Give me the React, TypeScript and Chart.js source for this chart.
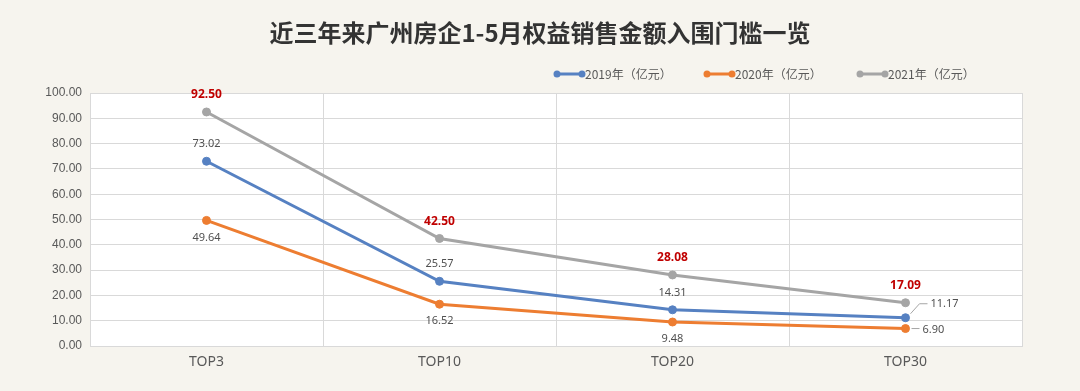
import React, { useEffect, useRef } from "react";
import { Chart, registerables } from "chart.js";

Chart.register(...registerables);

const TITLE = "近三年来广州房企1-5月权益销售金额入围门槛一览";
const CATEGORIES = ["TOP3", "TOP10", "TOP20", "TOP30"];
const SERIES_NAMES = ["2019年（亿元）", "2020年（亿元）", "2021年（亿元）"];
const VALUES_2019 = [73.02, 25.57, 14.31, 11.17];
const VALUES_2020 = [49.64, 16.52, 9.48, 6.9];
const VALUES_2021 = [92.5, 42.5, 28.08, 17.09];
const Y_MIN = 0;
const Y_MAX = 100;
const Y_STEP = 10;

const COLORS = ["#5681c2", "#ed7d31", "#a5a5a5"];
const BG = "#f6f4ee";

const LABEL_STYLE = [
  { pos: "above", color: "#505050", bold: false, size: 11, lastRight: true },
  { pos: "below", color: "#505050", bold: false, size: 11, lastRight: true },
  { pos: "above", color: "#c00000", bold: true, size: 12, lastRight: false },
];

const decorPlugin = {
  id: "decor",
  beforeDraw(chart: any) {
    const { ctx, chartArea, width, height } = chart;
    ctx.save();
    ctx.fillStyle = BG;
    ctx.fillRect(0, 0, width, height);
    ctx.fillStyle = "#ffffff";
    ctx.fillRect(chartArea.left, chartArea.top, chartArea.right - chartArea.left, chartArea.bottom - chartArea.top);
    ctx.fillStyle = "#333333";
    ctx.font = "bold 24px 'Noto Sans CJK SC'";
    ctx.textAlign = "center";
    ctx.textBaseline = "middle";
    ctx.fillText(TITLE, width / 2, 33);
    const legendX = [557, 707, 860];
    chart.data.datasets.forEach((ds: any, i: number) => {
      const x = legendX[i];
      const y = 74;
      ctx.strokeStyle = COLORS[i];
      ctx.fillStyle = COLORS[i];
      ctx.lineWidth = 3;
      ctx.beginPath();
      ctx.moveTo(x, y);
      ctx.lineTo(x + 25, y);
      ctx.stroke();
      ctx.beginPath();
      ctx.arc(x, y, 3.5, 0, Math.PI * 2);
      ctx.arc(x + 25, y, 3.5, 0, Math.PI * 2);
      ctx.fill();
      ctx.fillStyle = "#595959";
      ctx.font = "12px 'Noto Sans CJK SC'";
      ctx.textAlign = "left";
      ctx.fillText(ds.label, x + 28, y);
    });
    ctx.restore();
  },
  afterDatasetsDraw(chart: any) {
    const { ctx } = chart;
    ctx.save();
    chart.data.datasets.forEach((ds: any, i: number) => {
      const meta = chart.getDatasetMeta(i);
      const st = LABEL_STYLE[i];
      meta.data.forEach((pt: any, j: number) => {
        const v = ds.data[j];
        const text = v.toFixed(2);
        ctx.font = `${st.bold ? "bold " : ""}${st.size}px 'Noto Sans'`;
        ctx.fillStyle = st.color;
        ctx.textBaseline = "middle";
        const last = j === meta.data.length - 1;
        if (last && st.lastRight) {
          ctx.strokeStyle = "#a6a6a6";
          ctx.lineWidth = 1;
          ctx.beginPath();
          if (st.pos === "above") {
            ctx.moveTo(pt.x + 5, pt.y - 4);
            ctx.lineTo(pt.x + 14, pt.y - 14);
            ctx.lineTo(pt.x + 22, pt.y - 14);
            ctx.stroke();
            ctx.textAlign = "left";
            ctx.fillText(text, pt.x + 25, pt.y - 14);
          } else {
            ctx.moveTo(pt.x + 6, pt.y);
            ctx.lineTo(pt.x + 14, pt.y);
            ctx.stroke();
            ctx.textAlign = "left";
            ctx.fillText(text, pt.x + 17, pt.y + 1);
          }
        } else {
          ctx.textAlign = "center";
          const dy = st.pos === "above" ? -17 : 17;
          ctx.fillText(text, pt.x, pt.y + dy);
        }
      });
    });
    ctx.restore();
  },
};

export default function App() {
  const ref = useRef<HTMLCanvasElement>(null);
  useEffect(() => {
    document.body.style.margin = "0";
    const series = [VALUES_2019, VALUES_2020, VALUES_2021];
    const chart = new Chart(ref.current as HTMLCanvasElement, {
      type: "line",
      data: {
        labels: CATEGORIES,
        datasets: series.map((vals, i) => ({
          label: SERIES_NAMES[i],
          data: vals,
          borderColor: COLORS[i],
          backgroundColor: COLORS[i],
          borderWidth: 3,
          pointRadius: 4,
          pointHoverRadius: 4,
          pointBorderWidth: 1,
          pointBackgroundColor: COLORS[i],
          pointBorderColor: COLORS[i],
          tension: 0,
        })),
      },
      options: {
        animation: false,
        responsive: false,
        layout: { padding: { top: 93, right: 58, left: 0, bottom: 0 } },
        plugins: { legend: { display: false }, tooltip: { enabled: false }, title: { display: false } },
        scales: {
          x: {
            offset: true,
            grid: { offset: true, color: "#d9d9d9", drawTicks: false },
            border: { color: "#d9d9d9" },
            ticks: { color: "#595959", font: { size: 14, family: "'Noto Sans'" }, padding: 8 },
            afterFit(axis: any) {
              axis.height = 45;
            },
          },
          y: {
            min: Y_MIN,
            max: Y_MAX,
            grid: { color: "#d9d9d9", drawTicks: false },
            border: { color: "#d9d9d9" },
            ticks: {
              stepSize: Y_STEP,
              color: "#595959",
              font: { size: 12, family: "'Liberation Sans'" },
              padding: 8,
              callback: (v: any) => Number(v).toFixed(2),
            },
            afterFit(axis: any) {
              axis.width = 90;
            },
          },
        },
      },
      plugins: [decorPlugin],
    });
    return () => chart.destroy();
  }, []);
  return (
    <div style={{ width: 1080, height: 391, background: BG }}>
      <canvas ref={ref} width={1080} height={391} />
    </div>
  );
}
